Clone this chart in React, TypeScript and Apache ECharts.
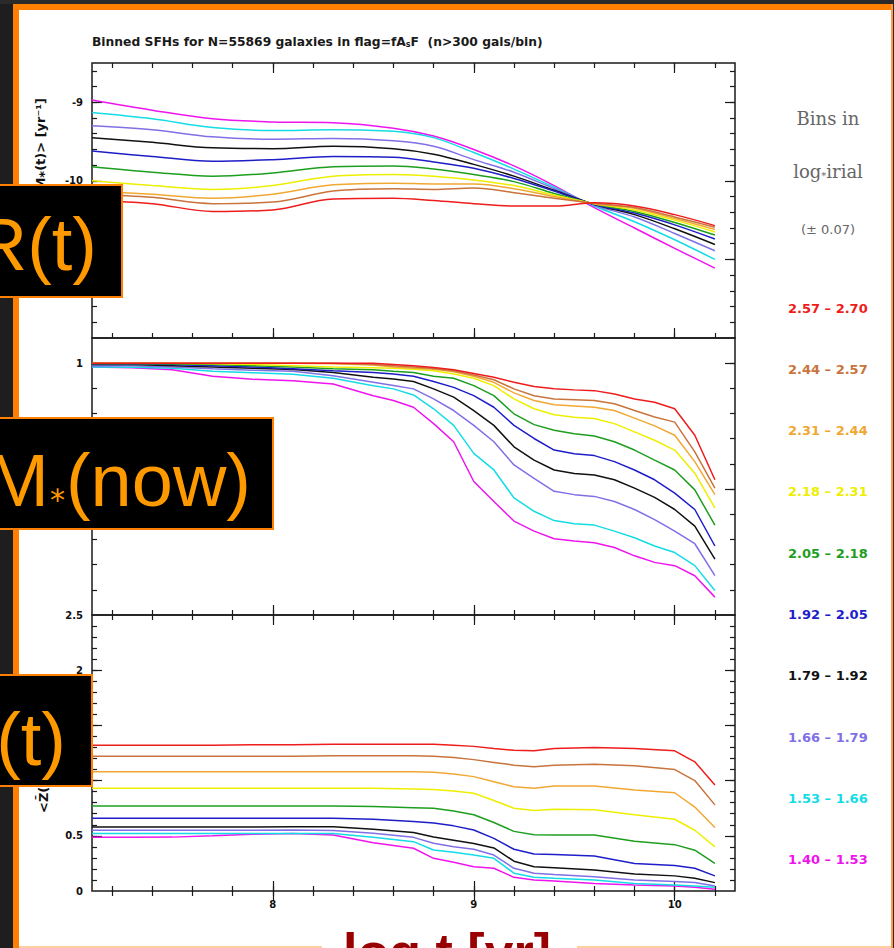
import React, { useEffect, useRef } from "react";
import * as echarts from "echarts";

// ---------- data ----------
const binLabels = [
  "2.57 – 2.70", "2.44 – 2.57", "2.31 – 2.44", "2.18 – 2.31", "2.05 – 2.18",
  "1.92 – 2.05", "1.79 – 1.92", "1.66 – 1.79", "1.53 – 1.66", "1.40 – 1.53",
];
const binColors = [
  "#ee1c1c", "#c8743c", "#f0a832", "#eeee00", "#1e9e1e",
  "#1e1ec8", "#111111", "#7f70e6", "#14dce6", "#ee14ee",
];

// top panel: log <SFR(t)>
const xSfr = [7.1, 7.4, 7.7, 8.0, 8.3, 8.6, 8.8, 9.0, 9.2, 9.4, 9.6, 9.8, 10.0, 10.2];
const sfrRed = [-10.25, -10.29, -10.39, -10.37, -10.23, -10.22, -10.25, -10.29, -10.32, -10.32, -10.28, -10.32, -10.43, -10.57];
const sfrBrown = [-10.17, -10.21, -10.29, -10.27, -10.13, -10.10, -10.11, -10.09, -10.15, -10.22, -10.285, -10.34, -10.46, -10.59];
const sfrOrange = [-10.13, -10.17, -10.22, -10.17, -10.05, -10.03, -10.04, -10.04, -10.10, -10.20, -10.29, -10.35, -10.48, -10.62];
const sfrYellow = [-10.0, -10.06, -10.11, -10.06, -9.94, -9.92, -9.94, -9.99, -10.06, -10.18, -10.29, -10.37, -10.50, -10.65];
const sfrGreen = [-9.82, -9.89, -9.94, -9.90, -9.82, -9.81, -9.85, -9.92, -10.01, -10.16, -10.295, -10.39, -10.53, -10.69];
const sfrBlue = [-9.62, -9.69, -9.75, -9.73, -9.69, -9.70, -9.76, -9.84, -9.97, -10.13, -10.30, -10.41, -10.56, -10.74];
const sfrBlack = [-9.45, -9.51, -9.58, -9.59, -9.56, -9.59, -9.66, -9.79, -9.94, -10.12, -10.30, -10.43, -10.61, -10.81];
const sfrLavender = [-9.30, -9.35, -9.44, -9.47, -9.46, -9.49, -9.56, -9.73, -9.89, -10.10, -10.31, -10.46, -10.67, -10.89];
const sfrCyan = [-9.13, -9.21, -9.32, -9.36, -9.35, -9.37, -9.45, -9.64, -9.85, -10.08, -10.32, -10.52, -10.75, -11.0];
const sfrMagenta = [-8.97, -9.10, -9.21, -9.25, -9.26, -9.33, -9.43, -9.60, -9.81, -10.06, -10.34, -10.60, -10.86, -11.11];

// middle panel: mass fraction
const xMass = [7.1, 7.3, 7.5, 7.7, 7.9, 8.1, 8.3, 8.5, 8.6, 8.7, 8.8, 8.9, 9.0, 9.1, 9.2, 9.3, 9.4, 9.5, 9.6, 9.7, 9.8, 9.9, 10.0, 10.1, 10.2];
const massRed = [1, 1, 1, 1, 1, 1, 1, 1, 0.995, 0.99, 0.983, 0.974, 0.959, 0.944, 0.924, 0.907, 0.898, 0.894, 0.891, 0.878, 0.858, 0.845, 0.819, 0.714, 0.537];
const massBrown = [1, 1, 1, 1, 1, 1, 1, 0.995, 0.99, 0.985, 0.979, 0.970, 0.953, 0.934, 0.898, 0.871, 0.858, 0.855, 0.852, 0.839, 0.812, 0.786, 0.766, 0.648, 0.504];
const massOrange = [1, 1, 1, 1, 1, 1, 0.998, 0.993, 0.985, 0.98, 0.976, 0.966, 0.948, 0.924, 0.882, 0.852, 0.835, 0.83, 0.825, 0.812, 0.782, 0.751, 0.714, 0.609, 0.478];
const massYellow = [1, 1, 1, 0.998, 0.995, 0.99, 0.985, 0.982, 0.98, 0.976, 0.970, 0.957, 0.940, 0.911, 0.858, 0.819, 0.795, 0.785, 0.780, 0.760, 0.727, 0.694, 0.655, 0.563, 0.425];
const massGreen = [0.998, 0.998, 0.997, 0.995, 0.99, 0.985, 0.978, 0.974, 0.968, 0.963, 0.948, 0.940, 0.911, 0.871, 0.799, 0.756, 0.734, 0.72, 0.711, 0.688, 0.655, 0.615, 0.576, 0.497, 0.357];
const massBlue = [0.997, 0.997, 0.995, 0.99, 0.985, 0.978, 0.970, 0.963, 0.957, 0.948, 0.927, 0.904, 0.871, 0.825, 0.753, 0.701, 0.655, 0.640, 0.633, 0.609, 0.576, 0.537, 0.484, 0.419, 0.274];
const massBlack = [0.995, 0.995, 0.99, 0.985, 0.98, 0.975, 0.963, 0.944, 0.937, 0.927, 0.898, 0.865, 0.812, 0.753, 0.668, 0.615, 0.576, 0.562, 0.556, 0.537, 0.504, 0.467, 0.419, 0.353, 0.222];
const massLavender = [0.99, 0.99, 0.985, 0.978, 0.972, 0.968, 0.950, 0.924, 0.911, 0.898, 0.858, 0.812, 0.753, 0.688, 0.596, 0.543, 0.491, 0.478, 0.471, 0.451, 0.419, 0.379, 0.333, 0.283, 0.156];
const massCyan = [0.985, 0.984, 0.98, 0.968, 0.962, 0.956, 0.940, 0.910, 0.898, 0.874, 0.819, 0.753, 0.642, 0.576, 0.465, 0.412, 0.375, 0.362, 0.357, 0.333, 0.307, 0.274, 0.248, 0.196, 0.097];
const massMagenta = [0.985, 0.982, 0.974, 0.948, 0.936, 0.930, 0.917, 0.871, 0.852, 0.825, 0.760, 0.688, 0.530, 0.451, 0.373, 0.333, 0.303, 0.294, 0.287, 0.268, 0.235, 0.209, 0.196, 0.156, 0.071];

// bottom panel: metallicity
const xMet = [7.1, 7.3, 7.5, 7.7, 7.9, 8.1, 8.3, 8.5, 8.7, 8.8, 8.9, 9.0, 9.1, 9.2, 9.3, 9.4, 9.6, 9.8, 10.0, 10.1, 10.2];
const metRed = [1.32, 1.32, 1.32, 1.32, 1.325, 1.325, 1.33, 1.33, 1.33, 1.33, 1.32, 1.31, 1.29, 1.275, 1.27, 1.29, 1.30, 1.29, 1.27, 1.17, 0.96];
const metBrown = [1.22, 1.22, 1.22, 1.22, 1.22, 1.22, 1.225, 1.225, 1.225, 1.22, 1.21, 1.19, 1.165, 1.14, 1.125, 1.14, 1.147, 1.135, 1.10, 1.0, 0.78];
const metOrange = [1.08, 1.08, 1.08, 1.08, 1.08, 1.08, 1.08, 1.08, 1.08, 1.075, 1.06, 1.036, 0.99, 0.945, 0.93, 0.95, 0.95, 0.915, 0.89, 0.76, 0.575];
const metYellow = [0.93, 0.93, 0.93, 0.93, 0.93, 0.93, 0.93, 0.93, 0.925, 0.92, 0.905, 0.885, 0.82, 0.75, 0.73, 0.74, 0.735, 0.69, 0.65, 0.55, 0.40];
const metGreen = [0.77, 0.77, 0.77, 0.77, 0.77, 0.77, 0.77, 0.765, 0.755, 0.75, 0.725, 0.69, 0.62, 0.54, 0.51, 0.507, 0.507, 0.45, 0.42, 0.37, 0.25];
const metBlue = [0.66, 0.66, 0.66, 0.66, 0.66, 0.66, 0.658, 0.65, 0.63, 0.615, 0.59, 0.553, 0.477, 0.378, 0.335, 0.33, 0.317, 0.25, 0.23, 0.206, 0.137];
const metBlack = [0.58, 0.58, 0.58, 0.58, 0.58, 0.583, 0.583, 0.56, 0.53, 0.49, 0.46, 0.43, 0.39, 0.27, 0.22, 0.21, 0.19, 0.155, 0.137, 0.115, 0.076];
const metLavender = [0.55, 0.55, 0.55, 0.55, 0.55, 0.553, 0.547, 0.522, 0.486, 0.432, 0.40, 0.378, 0.326, 0.206, 0.161, 0.15, 0.13, 0.10, 0.085, 0.076, 0.046];
const metCyan = [0.52, 0.52, 0.52, 0.52, 0.52, 0.52, 0.52, 0.486, 0.447, 0.371, 0.35, 0.326, 0.296, 0.161, 0.124, 0.115, 0.10, 0.069, 0.054, 0.045, 0.033];
const metMagenta = [0.486, 0.486, 0.488, 0.50, 0.515, 0.52, 0.507, 0.437, 0.387, 0.296, 0.26, 0.22, 0.206, 0.124, 0.10, 0.09, 0.069, 0.054, 0.045, 0.035, 0.015];

const sfrSeries = [sfrRed, sfrBrown, sfrOrange, sfrYellow, sfrGreen, sfrBlue, sfrBlack, sfrLavender, sfrCyan, sfrMagenta];
const massSeries = [massRed, massBrown, massOrange, massYellow, massGreen, massBlue, massBlack, massLavender, massCyan, massMagenta];
const metSeries = [metRed, metBrown, metOrange, metYellow, metGreen, metBlue, metBlack, metLavender, metCyan, metMagenta];

// axes
const X_MIN = 7.1;
const X_MAX = 10.3;
const xMajorTicks = [8, 9, 10];
const xTickLabels = [8, 9, 10];
const yRanges = [[-12, -8.5], [0, 1.1], [0, 2.5]];
const yMajorTicks = [[-11, -10, -9], [0.5, 1], [0.5, 1, 1.5, 2]];
const yTickLabels = [[-10, -9], [1], [0, 0.5, 2, 2.5]];
const yMinorStep = [0.2, 0.1, 0.1];

function steps(a: number, b: number, s: number) {
  const out: number[] = [];
  const n = Math.round((b - a) / s);
  for (let i = 0; i <= n; i++) out.push(Math.round((a + i * s) * 1000) / 1000);
  return out;
}

const FRAME = "#1a1a1a";
const tickFont = { fontFamily: "DejaVu Sans", fontWeight: "bold" as const, fontSize: 10, color: "#111" };

function buildOption() {
  const grids = [
    { left: 92, top: 63, width: 643, height: 275 },
    { left: 92, top: 338, width: 643, height: 277 },
    { left: 92, top: 615, width: 643, height: 276 },
  ].map((g) => ({ ...g, show: true, borderColor: FRAME, borderWidth: 1.5, backgroundColor: "transparent" }));

  const xMinor = steps(7.2, 10.2, 0.2);
  const xAxis: any[] = [];
  const yAxis: any[] = [];
  for (let g = 0; g < 3; g++) {
    const bx = { type: "value", gridIndex: g, min: X_MIN, max: X_MAX, axisLine: { show: false }, splitLine: { show: false } };
    const tk = (len: number, vals: number[]) => ({ show: true, inside: true, length: len, customValues: vals, lineStyle: { color: FRAME, width: 1.2 } });
    xAxis.push(
      { ...bx, position: "bottom", axisTick: tk(10, xMajorTicks), axisLabel: g === 2 ? { show: true, customValues: xTickLabels, margin: 8, ...tickFont } : { show: false } },
      { ...bx, position: "bottom", axisTick: tk(5, xMinor), axisLabel: { show: false } },
      { ...bx, position: "top", axisTick: tk(10, xMajorTicks), axisLabel: { show: false } },
      { ...bx, position: "top", axisTick: tk(5, xMinor), axisLabel: { show: false } }
    );
    const [lo, hi] = yRanges[g];
    const yMinor = steps(lo, hi, yMinorStep[g]).filter((v) => v > lo && v < hi);
    const by = { type: "value", gridIndex: g, min: lo, max: hi, axisLine: { show: false }, splitLine: { show: false } };
    yAxis.push(
      { ...by, position: "left", axisTick: tk(10, yMajorTicks[g]), axisLabel: { show: true, customValues: yTickLabels[g], margin: 9, ...tickFont } },
      { ...by, position: "left", axisTick: tk(5, yMinor), axisLabel: { show: false } },
      { ...by, position: "right", axisTick: tk(10, yMajorTicks[g]), axisLabel: { show: false } },
      { ...by, position: "right", axisTick: tk(5, yMinor), axisLabel: { show: false } }
    );
  }

  const panels = [
    { xs: xSfr, ys: sfrSeries, smooth: 0.35 },
    { xs: xMass, ys: massSeries, smooth: false },
    { xs: xMet, ys: metSeries, smooth: false },
  ];
  const series: any[] = [];
  panels.forEach((p, g) => {
    for (let i = binLabels.length - 1; i >= 0; i--) {
      series.push({
        type: "line",
        name: binLabels[i],
        xAxisIndex: g * 4,
        yAxisIndex: g * 4,
        data: p.xs.map((x, k) => [x, p.ys[i][k]]),
        showSymbol: false,
        smooth: p.smooth,
        silent: true,
        lineStyle: { color: binColors[i], width: 1.5 },
        itemStyle: { color: binColors[i] },
        z: 2,
      });
    }
  });

  const T = (o: any) => ({ type: "text", ...o });
  const txt = (text: string, extra: any) => ({ text, fill: "#111", fontFamily: "DejaVu Sans", fontSize: 11, ...extra });

  const graphic: any[] = [
    // slide background bits
    { type: "rect", shape: { x: 0, y: 0, width: 13, height: 948 }, style: { fill: "#1e1e1e" }, z: 1 },
    { type: "rect", shape: { x: 0, y: 0, width: 894, height: 4 }, style: { fill: "#2a2a2a" }, z: 1 },
    { type: "rect", shape: { x: 13, y: 4, width: 6, height: 944 }, style: { fill: "#ff8000" }, z: 1 },
    { type: "rect", shape: { x: 13, y: 4, width: 881, height: 6 }, style: { fill: "#ff8000" }, z: 1 },
    { type: "rect", shape: { x: 891, y: 4, width: 2, height: 944 }, style: { fill: "#ff9a40" }, z: 1 },
    { type: "rect", shape: { x: 893, y: 0, width: 1, height: 948 }, style: { fill: "#2a2a2a" }, z: 1 },
    { type: "rect", shape: { x: 19, y: 946, width: 303, height: 2 }, style: { fill: "#ffcf9f" }, z: 1 },
    { type: "rect", shape: { x: 577, y: 946, width: 314, height: 2 }, style: { fill: "#ffcf9f" }, z: 1 },

    // title
    T({
      x: 92, y: 42, z: 10,
      style: {
        text: "{a|Binned SFHs for N=55869 galaxies in flag=fA}{s|s}{a|F  (n>300 gals/bin)}",
        align: "left", verticalAlign: "middle", textAlign: "left", textVerticalAlign: "middle",
        rich: {
          a: { fill: "#1a1a1a", fontFamily: "DejaVu Sans", fontWeight: "bold", fontSize: 12.3 },
          s: { fill: "#1a1a1a", fontFamily: "DejaVu Sans", fontWeight: "bold", fontSize: 8, verticalAlign: "bottom" },
        },
      },
    }),

    // legend header
    T({ x: 828, y: 118, z: 10, style: txt("Bins in", { fill: "#666", fontFamily: "DejaVu Serif", fontSize: 18, align: "center", verticalAlign: "middle", textAlign: "center", textVerticalAlign: "middle" }) }),
    T({
      x: 828, y: 171, z: 10,
      style: {
        text: "{a|log}{s|*}{a|irial}",
        align: "center", verticalAlign: "middle", textAlign: "center", textVerticalAlign: "middle",
        rich: {
          a: { fill: "#666", fontFamily: "DejaVu Serif", fontSize: 18 },
          s: { fill: "#666", fontFamily: "DejaVu Serif", fontSize: 10, verticalAlign: "bottom" },
        },
      },
    }),
    T({ x: 828, y: 229, z: 10, style: txt("(± 0.07)", { fill: "#666", fontSize: 13, align: "center", verticalAlign: "middle", textAlign: "center", textVerticalAlign: "middle" }) }),

    // y axis titles
    T({ x: 40, y: 98, rotation: Math.PI / 2, z: 10, style: txt("log <SFR(t)/M⁎(t)> [yr⁻¹]", { fontSize: 13, fontWeight: "bold", align: "right", verticalAlign: "middle", textAlign: "right", textVerticalAlign: "middle" }) }),
    T({ x: 43, y: 813, rotation: Math.PI / 2, z: 10, style: txt("<Z̄(t)/Z⊙>", { fontSize: 13, fontWeight: "bold", align: "left", verticalAlign: "middle", textAlign: "left", textVerticalAlign: "middle" }) }),

    // overlay boxes
    { type: "rect", z: 100, shape: { x: -10, y: 185, width: 132, height: 112 }, style: { fill: "#000", stroke: "#ff8000", lineWidth: 2 } },
    T({ x: 97, y: 244, z: 101, style: { text: "SFR(t)", fill: "#ff9900", fontFamily: "Liberation Sans", fontSize: 74, align: "right", verticalAlign: "middle", textAlign: "right", textVerticalAlign: "middle" } }),
    { type: "rect", z: 100, shape: { x: -10, y: 418, width: 283, height: 111 }, style: { fill: "#000", stroke: "#ff8000", lineWidth: 2 } },
    T({
      x: 251, y: 480, z: 101,
      style: {
        text: "{m|/M}{s|⁎}{m|(now)}",
        align: "right", verticalAlign: "middle", textAlign: "right", textVerticalAlign: "middle",
        rich: {
          m: { fill: "#ff9900", fontFamily: "Liberation Sans", fontSize: 74 },
          s: { fill: "#ff9900", fontFamily: "DejaVu Sans", fontSize: 30, verticalAlign: "bottom", padding: [0, 1, 12, 1] },
        },
      },
    }),
    { type: "rect", z: 100, shape: { x: -10, y: 675, width: 102, height: 111 }, style: { fill: "#000", stroke: "#ff8000", lineWidth: 2 } },
    T({ x: 66, y: 739, z: 101, style: { text: "Z(t)", fill: "#ff9900", fontFamily: "Liberation Sans", fontSize: 74, align: "right", verticalAlign: "middle", textAlign: "right", textVerticalAlign: "middle" } }),

    // bottom axis caption
    T({ x: 447, y: 952, z: 101, style: { text: "log t [yr]", fill: "#990000", fontFamily: "Liberation Sans", fontWeight: "bold", fontSize: 52, align: "center", verticalAlign: "middle", textAlign: "center", textVerticalAlign: "middle" } }),
  ];

  return {
    animation: false,
    backgroundColor: "#ffffff",
    grid: grids,
    xAxis,
    yAxis,
    series,
    legend: {
      orient: "vertical",
      left: 783,
      top: 301,
      padding: 0,
      itemWidth: 0,
      itemHeight: 14,
      itemGap: 47.3,
      icon: "rect",
      selectedMode: false,
      itemStyle: { opacity: 0 },
      lineStyle: { opacity: 0 },
      textStyle: { fontFamily: "DejaVu Sans", fontWeight: "bold", fontSize: 13 },
      data: binLabels.map((b, i) => ({ name: b, textStyle: { color: binColors[i] } })),
    },
    graphic: { elements: graphic },
  };
}

export default function App() {
  const ref = useRef<HTMLDivElement>(null);
  useEffect(() => {
    if (!ref.current) return;
    const chart = echarts.init(ref.current, null, { renderer: "svg" });
    chart.setOption(buildOption() as any);
    return () => chart.dispose();
  }, []);
  return <div ref={ref} style={{ position: "fixed", left: 0, top: 0, width: 894, height: 948 }} />;
}
